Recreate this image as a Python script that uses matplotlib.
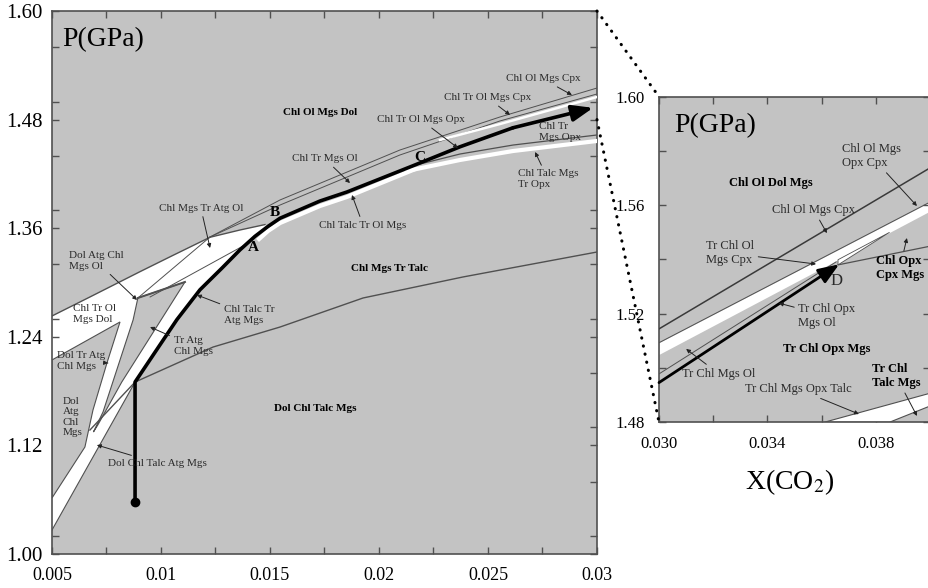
import matplotlib.pyplot as plt
from matplotlib.patches import Polygon, ConnectionPatch
from matplotlib.ticker import MultipleLocator, FormatStrFormatter

plt.rcParams['font.family'] = 'Liberation Serif'
plt.rcParams['mathtext.fontset'] = 'stix'

BG = '#c3c3c3'
LINE = '#505050'
TXT = '#2a2a2a'

# ---------------- main panel: X(CO2) vs P(GPa) ----------------
x_ticks = [0.005, 0.01, 0.015, 0.02, 0.025, 0.03]
x_tick_labels = ['0.005', '0.01', '0.015', '0.02', '0.025', '0.03']
y_ticks = [1.00, 1.12, 1.24, 1.36, 1.48, 1.60]

# upper boundary of the white field (Chl Ol Mgs Dol above it)
upper_x = [0.0050, 0.00674, 0.00904, 0.01055, 0.01225, 0.01362, 0.01477]
upper_y = [1.263, 1.284, 1.312, 1.330, 1.350, 1.358, 1.364]

# thick P-T(X) path, from the dot to the arrow head
path_x = [0.00881, 0.00881, 0.00995, 0.01073, 0.01179, 0.01280, 0.01362, 0.01431,
          0.01491, 0.01546, 0.01729, 0.01853, 0.02156, 0.02372, 0.02615, 0.02982]
path_y = [1.0575, 1.190, 1.231, 1.259, 1.292, 1.316, 1.336, 1.351,
          1.362, 1.371, 1.390, 1.400, 1.429, 1.450, 1.471, 1.493]

# lower corner of the wide white stripe on the left axis
stripe_low = (0.005, 1.0265)

# grey field Dol Tr Atg Chl Mgs / Dol Atg Chl Mgs
g1_x = [0.005, 0.00812, 0.00752, 0.00688, 0.00651, 0.005]
g1_y = [1.2144, 1.2564, 1.211, 1.1591, 1.1182, 1.0619]

# grey field Tr Atg Chl Mgs between the two white stripes
kite_x = [0.00894, 0.01110, 0.01000, 0.00820, 0.00710, 0.00690, 0.00734, 0.00872]
kite_y = [1.2829, 1.3006, 1.2586, 1.190, 1.1425, 1.1348, 1.1569, 1.2586]

# Chl Mgs Tr Talc / Dol Chl Talc Mgs boundary
talc_x = [0.00674, 0.00881, 0.01239, 0.01546, 0.01927, 0.02385, 0.0300]
talc_y = [1.137, 1.190, 1.2287, 1.2508, 1.2829, 1.3061, 1.3337]

# two thin lines above the path
u1_x = [0.01225, 0.01546, 0.02096, 0.02555, 0.0300]
u1_y = [1.3503, 1.3912, 1.4464, 1.4829, 1.5149]
u2_x = [0.01225, 0.01546, 0.02096, 0.02555, 0.0300]
u2_y = [1.3503, 1.3856, 1.4409, 1.4785, 1.5083]
# thin white field under them
cpx_x = [0.0228, 0.02555, 0.0300]
cpx_y = [1.4575, 1.4751, 1.5050]

# white band under the path from B to C
bc_x = [0.01450, 0.01491, 0.01546, 0.01729, 0.01853, 0.02156]
bc_y = [1.3480, 1.3569, 1.3657, 1.3845, 1.3945, 1.4243]
# white band Chl Talc Mgs Tr Opx and grey line above it
opx_x = [0.02128, 0.02372, 0.02615, 0.0300]
opx_y = [1.4232, 1.4354, 1.4453, 1.4564]
tro_x = [0.02188, 0.02372, 0.02615, 0.0300]
tro_y = [1.4309, 1.4420, 1.4519, 1.4630]

# single straight boundaries (start, end)
seg_atg_ol = ([0.00894, 0.01225], [1.2829, 1.3503])
seg_mid = ([0.0095, 0.01385], [1.2840, 1.3415])
seg_stripe = ([0.00881, 0.005], [1.190, 1.0265])

main_labels = [
    # text, x, y, tip x, tip y, bold
    ('Chl Ol Mgs Dol', 0.01729, 1.4873, None, None, True),
    ('Chl Ol Mgs Cpx', 0.02752, 1.5249, 0.02885, 1.5072, False),
    ('Chl Tr Ol Mgs Cpx', 0.0250, 1.5039, 0.02601, 1.4851, False),
    ('Chl Tr Ol Mgs Opx', 0.02193, 1.4796, 0.02362, 1.4486, False),
    ('Chl Tr Mgs Ol', 0.01752, 1.4365, 0.01867, 1.4099, False),
    ('Chl Talc Tr Ol Mgs', 0.01927, 1.3635, 0.01876, 1.3967, False),
    ('Chl Tr\nMgs Opx', 0.02830, 1.4663, None, None, False),
    ('Chl Talc Mgs\nTr Opx', 0.02775, 1.4144, 0.02716, 1.4442, False),
    ('Chl Mgs Tr Atg Ol', 0.01183, 1.3823, 0.01225, 1.3381, False),
    ('Chl Mgs Tr Talc', 0.0205, 1.316, None, None, True),
    ('Dol Atg Chl\nMgs Ol', 0.00702, 1.3238, 0.0089, 1.2807, False),
    ('Chl Tr Ol\nMgs Dol', 0.00693, 1.2652, None, None, False),
    ('Chl Talc Tr\nAtg Mgs', 0.01404, 1.2641, 0.01165, 1.2862, False),
    ('Tr Atg\nChl Mgs', 0.01147, 1.2298, 0.0095, 1.2508, False),
    ('Dol Tr Atg\nChl Mgs', 0.00633, 1.2133, 0.00757, 1.2110, False),
    ('Dol\nAtg\nChl\nMgs', 0.00596, 1.1514, None, None, False),
    ('Dol Chl Talc Atg Mgs', 0.00982, 1.1005, 0.00706, 1.1204, False),
    ('Dol Chl Talc Mgs', 0.01706, 1.1613, None, None, True),
]
point_labels = [('A', 0.01422, 1.3392), ('B', 0.01523, 1.3779), ('C', 0.02188, 1.4376)]

# ---------------- inset: zoom on X(CO2) 0.030-0.040 ----------------
in_x_ticks = [0.030, 0.034, 0.038]
in_y_ticks = [1.48, 1.52, 1.56, 1.60]
in_dark_x, in_dark_y = [0.0300, 0.0400], [1.5144, 1.5738]
in_band_x = [0.0300, 0.0400]
in_band_top = [1.5093, 1.5612]
in_band_bot = [1.5050, 1.5579]
in_wedge_x = [0.0366, 0.0385, 0.0366]
in_wedge_y = [1.5380, 1.5500, 1.5399]
in_path_x, in_path_y = [0.0300, 0.03664], [1.4946, 1.5382]
in_thin_x, in_thin_y = [0.0300, 0.03653], [1.4978, 1.5391]
in_right_x, in_right_y = [0.0366, 0.0400], [1.5380, 1.5449]
in_talc_x = [0.0361, 0.0400, 0.0400, 0.0385]
in_talc_y = [1.4800, 1.4907, 1.4860, 1.4800]

in_labels = [
    ('Chl Ol Mgs\nOpx Cpx', 0.03782, 1.5781, 0.03951, 1.5597, False),
    ('Chl Ol Dol Mgs', 0.03413, 1.5681, None, None, True),
    ('Chl Ol Mgs Cpx', 0.03571, 1.5582, 0.03619, 1.5497, False),
    ('Tr Chl Ol\nMgs Cpx', 0.03262, 1.5423, 0.03579, 1.5383, False),
    ('Chl Opx\nCpx Mgs', 0.03888, 1.5369, 0.03914, 1.5479, True),
    ('Tr Chl Opx\nMgs Ol', 0.03619, 1.5192, 0.03442, 1.5239, False),
    ('Tr Chl Opx Mgs', 0.03619, 1.5070, None, None, True),
    ('Tr Chl Mgs Ol', 0.03221, 1.4978, 0.03100, 1.5070, False),
    ('Tr Chl Mgs Opx Talc', 0.03512, 1.4922, 0.03737, 1.4830, False),
    ('Tr Chl\nTalc Mgs', 0.03874, 1.4970, 0.03951, 1.4823, True),
]


def put_label(a, txt, x, y, tx, ty, bold, size):
    kw = dict(ha='center', va='center', ma='left', fontsize=size, zorder=8,
              color='black' if bold else TXT, fontweight='bold' if bold else 'normal')
    if tx is None:
        a.text(x, y, txt, **kw)
    else:
        a.annotate(txt, xy=(tx, ty), xytext=(x, y),
                   arrowprops=dict(arrowstyle='-|>', color='#222222', lw=0.7,
                                   mutation_scale=6, shrinkA=1, shrinkB=0), **kw)


def style_axes(a, size):
    a.set_facecolor(BG)
    for s in a.spines.values():
        s.set_color(LINE)
        s.set_linewidth(1.2)
    a.tick_params(which='both', direction='in', top=True, right=True,
                  length=5, width=1, color=LINE, labelsize=size)


fig = plt.figure(figsize=(9.29, 5.88), dpi=100)
ax = fig.add_axes([0.05597, 0.05782, 0.58665, 0.92347])
axin = fig.add_axes([0.70936, 0.28197, 0.29198, 0.55357])

# ---- main panel ----
style_axes(ax, 13)
ax.set_xlim(0.005, 0.03)
ax.set_ylim(1.0, 1.6)
ax.set_xticks(x_ticks)
ax.set_xticklabels(x_tick_labels)
ax.xaxis.set_minor_locator(MultipleLocator(0.0025))
ax.set_yticks(y_ticks)
ax.yaxis.set_major_formatter(FormatStrFormatter('%.2f'))
ax.yaxis.set_minor_locator(MultipleLocator(0.06))
ax.tick_params(axis='x', pad=9)
ax.tick_params(axis='y', pad=7, labelsize=15)

white_pts = list(zip(upper_x, upper_y)) + list(zip(path_x[1:9], path_y[1:9]))[::-1] + [stripe_low]
ax.add_patch(Polygon(white_pts, closed=True, facecolor='white', edgecolor='none', zorder=1))
ax.add_patch(Polygon(list(zip(g1_x, g1_y)), closed=True, facecolor=BG,
                     edgecolor=LINE, lw=0.8, zorder=2))
ax.add_patch(Polygon(list(zip(kite_x, kite_y)), closed=True, facecolor=BG,
                     edgecolor=LINE, lw=0.8, zorder=2))
ax.plot(kite_x[:2], kite_y[:2], color=LINE, lw=1.4, zorder=3)

ax.plot(upper_x, upper_y, color=LINE, lw=1.0, zorder=3)
ax.plot(*seg_atg_ol, color=LINE, lw=0.7, zorder=3)
ax.plot(*seg_mid, color=LINE, lw=0.7, zorder=3)
ax.plot(*seg_stripe, color=LINE, lw=0.8, zorder=3)
ax.plot(talc_x, talc_y, color=LINE, lw=1.0, zorder=3)
ax.plot(u1_x, u1_y, color=LINE, lw=0.7, zorder=3)
ax.plot(u2_x, u2_y, color=LINE, lw=0.7, zorder=3)
ax.plot(cpx_x, cpx_y, color='white', lw=1.8, zorder=3)
ax.plot(bc_x, bc_y, color='white', lw=3.0, zorder=3)
ax.plot(opx_x, opx_y, color='white', lw=3.0, zorder=3)
ax.plot(tro_x, tro_y, color=LINE, lw=0.9, zorder=3)

ax.plot(path_x[:-1], path_y[:-1], color='black', lw=2.6, zorder=5, solid_capstyle='round')
ax.plot(path_x[0], path_y[0], 'o', color='black', ms=6, zorder=6)
ax.annotate('', xy=(path_x[-1], path_y[-1]), xytext=(path_x[-2], path_y[-2]),
            arrowprops=dict(arrowstyle='-|>,head_length=0.9,head_width=0.35', color='black',
                            lw=2.6, shrinkA=0, shrinkB=0, mutation_scale=14), zorder=6)

for txt, x, y, tx, ty, b in main_labels:
    put_label(ax, txt, x, y, tx, ty, b, 8)
for txt, x, y in point_labels:
    ax.text(x, y, txt, ha='center', va='center', fontsize=11, fontweight='bold', zorder=8)
ax.text(0.00546, 1.568, 'P(GPa)', fontsize=20, ha='left', va='center', zorder=8)

# ---- inset ----
style_axes(axin, 12)
axin.set_xlim(0.030, 0.040)
axin.set_ylim(1.48, 1.60)
axin.set_xticks(in_x_ticks)
axin.xaxis.set_major_formatter(FormatStrFormatter('%.3f'))
axin.xaxis.set_minor_locator(MultipleLocator(0.002))
axin.set_yticks(in_y_ticks)
axin.yaxis.set_major_formatter(FormatStrFormatter('%.2f'))
axin.yaxis.set_minor_locator(MultipleLocator(0.02))
axin.tick_params(axis='both', pad=10)

axin.fill_between(in_band_x, in_band_bot, in_band_top, color='white', lw=0, zorder=1)
axin.plot(in_band_x, in_band_top, color=LINE, lw=0.7, zorder=3)
axin.add_patch(Polygon(list(zip(in_wedge_x, in_wedge_y)), closed=True,
                       facecolor='white', edgecolor=LINE, lw=0.6, zorder=2))
axin.add_patch(Polygon(list(zip(in_talc_x, in_talc_y)), closed=True,
                       facecolor='white', edgecolor=LINE, lw=0.8, zorder=2))
axin.plot(in_dark_x, in_dark_y, color='#3a3a3a', lw=1.1, zorder=3)
axin.plot(in_thin_x, in_thin_y, color=LINE, lw=0.7, zorder=3)
axin.plot(in_right_x, in_right_y, color=LINE, lw=0.9, zorder=3)
axin.annotate('', xy=(in_path_x[1], in_path_y[1]), xytext=(in_path_x[0], in_path_y[0]),
              arrowprops=dict(arrowstyle='-|>,head_length=0.9,head_width=0.35', color='black',
                              lw=2.0, shrinkA=0, shrinkB=0, mutation_scale=14), zorder=6)
for txt, x, y, tx, ty, b in in_labels:
    put_label(axin, txt, x, y, tx, ty, b, 9)
axin.text(0.03656, 1.5320, 'D', fontsize=12, ha='center', va='center', color=TXT, zorder=8)
axin.text(0.03055, 1.5892, 'P(GPa)', fontsize=20, ha='left', va='center', zorder=8)
fig.text(790 / 929, 1 - 482 / 588, 'X(CO$_2$)', fontsize=20, ha='center', va='center')

# dotted zoom connectors
for yv in (1.60, 1.48):
    con = ConnectionPatch(xyA=(0.03, yv), coordsA=ax.transData,
                          xyB=(0.030, yv), coordsB=axin.transData,
                          color='black', lw=2.2, linestyle=(0, (0.1, 2.6)),
                          capstyle='round')
    fig.add_artist(con)

fig.savefig('out.png', dpi=100)
